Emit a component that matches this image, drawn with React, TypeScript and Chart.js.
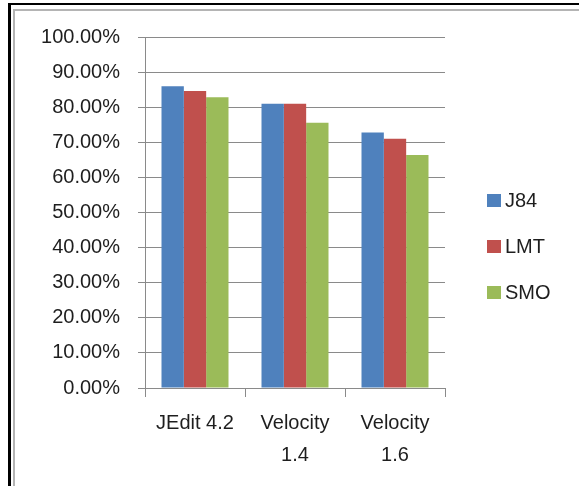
import React, { useEffect, useRef } from 'react';
import { Chart, registerables } from 'chart.js';

Chart.register(...registerables);

// ---- data ----
const categories: (string | string[])[] = ['JEdit 4.2', ['Velocity', '1.4'], ['Velocity', '1.6']];
const seriesNames = ['J84', 'LMT', 'SMO'];
const j84 = [0.86, 0.81, 0.728];
const lmt = [0.846, 0.81, 0.71];
const smo = [0.828, 0.756, 0.664];
const seriesColors = ['#4F81BD', '#C0504D', '#9BBB59'];
const yMin = 0;
const yMax = 1;
const yStep = 0.1;

// ---- style / layout constants ----
const FONT = '"Liberation Sans", Arial, sans-serif';
const TEXT = '#1e1e1e';
const GRID = '#8a8a8a';
const CANVAS_LEFT = 16;
const CANVAS_TOP = 12;
const CW = 563;
const CH = 474;
const AREA_LEFT = 129;
const AREA_RIGHT = 429;
const AREA_TOP = 25;
const AREA_BOTTOM = 376;
const LEGEND_X = 471;
const LEGEND_TOP = 182;
const LEGEND_STEP = 46;
const LEGEND_BOX = 13;

const sideLegend = {
  id: 'sideLegend',
  afterDraw(chart: any) {
    const ctx = chart.ctx;
    ctx.save();
    chart.data.datasets.forEach((ds: any, i: number) => {
      const top = LEGEND_TOP + i * LEGEND_STEP;
      ctx.fillStyle = ds.backgroundColor;
      ctx.fillRect(LEGEND_X, top, LEGEND_BOX + 1, LEGEND_BOX);
      ctx.fillStyle = TEXT;
      ctx.font = `20px ${FONT}`;
      ctx.textBaseline = 'alphabetic';
      ctx.textAlign = 'left';
      ctx.fillText(ds.label, LEGEND_X + 18, top + LEGEND_BOX);
    });
    ctx.restore();
  },
};

export default function App() {
  const ref = useRef<HTMLCanvasElement | null>(null);

  useEffect(() => {
    if (!ref.current) return;
    const values = [j84, lmt, smo];
    const chart = new Chart(ref.current, {
      type: 'bar',
      data: {
        labels: categories,
        datasets: seriesNames.map((name, i) => ({
          label: name,
          data: values[i],
          backgroundColor: seriesColors[i],
          borderWidth: 0,
          categoryPercentage: 0.67,
          barPercentage: 1,
        })),
      },
      options: {
        responsive: false,
        animation: false,
        devicePixelRatio: 1,
        layout: {
          padding: { top: AREA_TOP, left: 0, right: CW - AREA_RIGHT, bottom: 0 },
        },
        plugins: {
          legend: { display: false },
          tooltip: { enabled: false },
        },
        scales: {
          x: {
            afterFit(scale: any) {
              scale.height = CH - AREA_BOTTOM;
            },
            grid: {
              offset: true,
              drawOnChartArea: false,
              drawTicks: true,
              tickLength: 9,
              color: GRID,
              lineWidth: 1,
            },
            border: { display: true, color: GRID, width: 1 },
            ticks: {
              color: TEXT,
              padding: 10,
              maxRotation: 0,
              autoSkip: false,
              font: { family: FONT, size: 20, lineHeight: 1.6 },
            },
          },
          y: {
            min: yMin,
            max: yMax,
            afterFit(scale: any) {
              scale.width = AREA_LEFT;
              scale.paddingTop = 12;
              scale.paddingBottom = 12;
            },
            grid: {
              color: GRID,
              lineWidth: 1,
              drawTicks: true,
              tickLength: 7,
            },
            border: { display: true, color: GRID, width: 1 },
            ticks: {
              stepSize: yStep,
              color: TEXT,
              padding: 18,
              font: { family: FONT, size: 20 },
              callback: (v: any) => (Number(v) * 100).toFixed(2) + '%',
            },
          },
        },
      },
      plugins: [sideLegend],
    });
    return () => chart.destroy();
  }, []);

  return (
    <div style={{ position: 'absolute', left: 0, top: 0, width: 579, height: 486, overflow: 'hidden', background: '#fff' }}>
      <div style={{ position: 'absolute', left: 8, top: 3, right: 0, bottom: 0, borderTop: '2px solid #000', borderLeft: '3px solid #000' }} />
      <div style={{ position: 'absolute', left: 13, top: 9, right: 0, bottom: 0, borderTop: '2px solid #b4b4b4', borderLeft: '2px solid #b4b4b4' }} />
      <canvas
        ref={ref}
        width={CW}
        height={CH}
        style={{ position: 'absolute', left: CANVAS_LEFT, top: CANVAS_TOP, width: CW, height: CH }}
      />
    </div>
  );
}
